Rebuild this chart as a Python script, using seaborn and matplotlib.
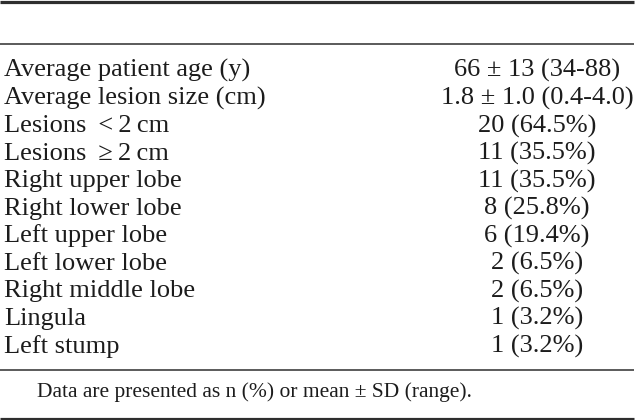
import numpy as np
import matplotlib
matplotlib.use('Agg')
import matplotlib.pyplot as plt
import seaborn as sns

# table contents
characteristics = ["Average patient age (y)",
                   "Average lesion size (cm)",
                   "Lesions \u2009<\u20092\u2009cm",
                   "Lesions \u2009\u2265\u20092\u2009cm",
                   "Right upper lobe",
                   "Right lower lobe",
                   "Left upper lobe",
                   "Left lower lobe",
                   "Right middle lobe",
                   "Lingula",
                   "Left stump"]
values = ["66 \u00b1 13 (34-88)",
          "1.8 \u00b1 1.0 (0.4-4.0)",
          "20 (64.5%)",
          "11 (35.5%)",
          "11 (35.5%)",
          "8 (25.8%)",
          "6 (19.4%)",
          "2 (6.5%)",
          "2 (6.5%)",
          "1 (3.2%)",
          "1 (3.2%)"]
footnote = "Data are presented as n (%) or mean \u00b1 SD (range)."

sns.set_theme(style="white")
plt.rcParams['font.family'] = ['Liberation Serif', 'DejaVu Serif']

fig = plt.figure(figsize=(6.36, 4.2), dpi=100)
ax = fig.add_axes([0, 0, 1, 1])
ax.set_xlim(0, 636)
ax.set_ylim(420, 0)
ax.axis('off')

txt_col = '#1c1c1c'
line_col = '#2e2e2e'

# horizontal rules
ax.hlines([1.5, 418.5], 0, 634, color=line_col, lw=2.3)
ax.hlines([44, 370], 0, 634, color=line_col, lw=1.1)

# rows
first_base = 77
step = 27.56
rows = first_base + step * np.arange(len(characteristics))
for y, lab, val in zip(rows, characteristics, values):
    ax.text(4, y, lab, fontsize=19, color=txt_col, va='baseline', ha='left')
    ax.text(537, y, val, fontsize=19, color=txt_col, va='baseline', ha='center')

ax.text(37, 396.5, footnote, fontsize=15.5, color=txt_col, va='baseline', ha='left')

plt.savefig('out.png', dpi=100)
